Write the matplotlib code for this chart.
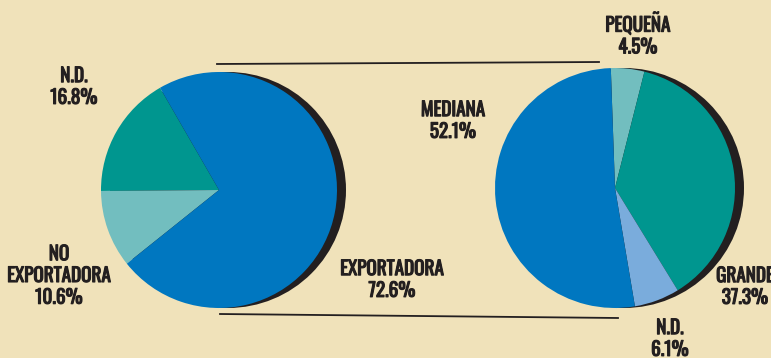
import matplotlib.pyplot as plt
import matplotlib.patheffects as pe
from matplotlib.patches import Circle

# data
left_labels = ['N.D.', 'NO\nEXPORTADORA', 'EXPORTADORA']
left_values = [16.8, 10.6, 72.6]
right_labels = ['PEQUEÑA', 'GRANDE', 'N.D.', 'MEDIANA']
right_values = [4.5, 37.3, 6.1, 52.1]

bg = '#f0e2ba'
ink = '#231f20'
left_colors = ['#00968f', '#72bebf', '#0077c0']
right_colors = ['#72bebf', '#00968f', '#7aacdc', '#0077c0']

W, H = 771, 358
fig = plt.figure(figsize=(W / 100, H / 100), dpi=100, facecolor=bg)
ax = fig.add_axes([0, 0, 1, 1])
ax.set_facecolor(bg)

# pie geometry in pixel coords (y up)
lc, lr = (219, H - 190), 118
rc, rr = (615, H - 188), 120

# dark offset "shadow" behind each pie
for c, r in [(lc, lr), (rc, rr)]:
    ax.add_patch(Circle((c[0] + 9, c[1]), r, color=ink, zorder=1, lw=0))

ax.pie(left_values, center=lc, radius=lr, startangle=120, colors=left_colors,
       wedgeprops=dict(linewidth=0, zorder=2))
ax.pie(right_values, center=rc, radius=rr, startangle=92, counterclock=False,
       colors=right_colors, wedgeprops=dict(linewidth=0, zorder=2))

# connector lines
ax.plot([lc[0] - 2, rc[0] - 16], [lc[1] + lr + 8, rc[1] + rr + 6], color=ink, lw=1.3)
ax.plot([lc[0] + 1, rc[0] + 3], [lc[1] - lr - 6, rc[1] - rr - 10], color=ink, lw=1.3)

# Oswald only has the regular weight here, so thicken it with a stroke
font = dict(family=['Oswald', 'DejaVu Sans'], fontsize=13.8, color=ink,
            ha='center', va='center', linespacing=1.25,
            path_effects=[pe.withStroke(linewidth=0.8, foreground=ink)])

left_pos = [(74, H - 87), (59, H - 276), (392, H - 280)]
for lab, val, (x, y) in zip(left_labels, left_values, left_pos):
    ax.text(x, y, f'{lab}\n{val}%', **font)

right_pos = [(638, H - 34), (745, H - 287), (670, H - 339), (453, H - 121)]
for lab, val, (x, y) in zip(right_labels, right_values, right_pos):
    ax.text(x, y, f'{lab}\n{val}%', **font)

ax.set_xlim(0, W)
ax.set_ylim(0, H)
ax.axis('off')
fig.savefig('out.png', dpi=100, facecolor=bg)
